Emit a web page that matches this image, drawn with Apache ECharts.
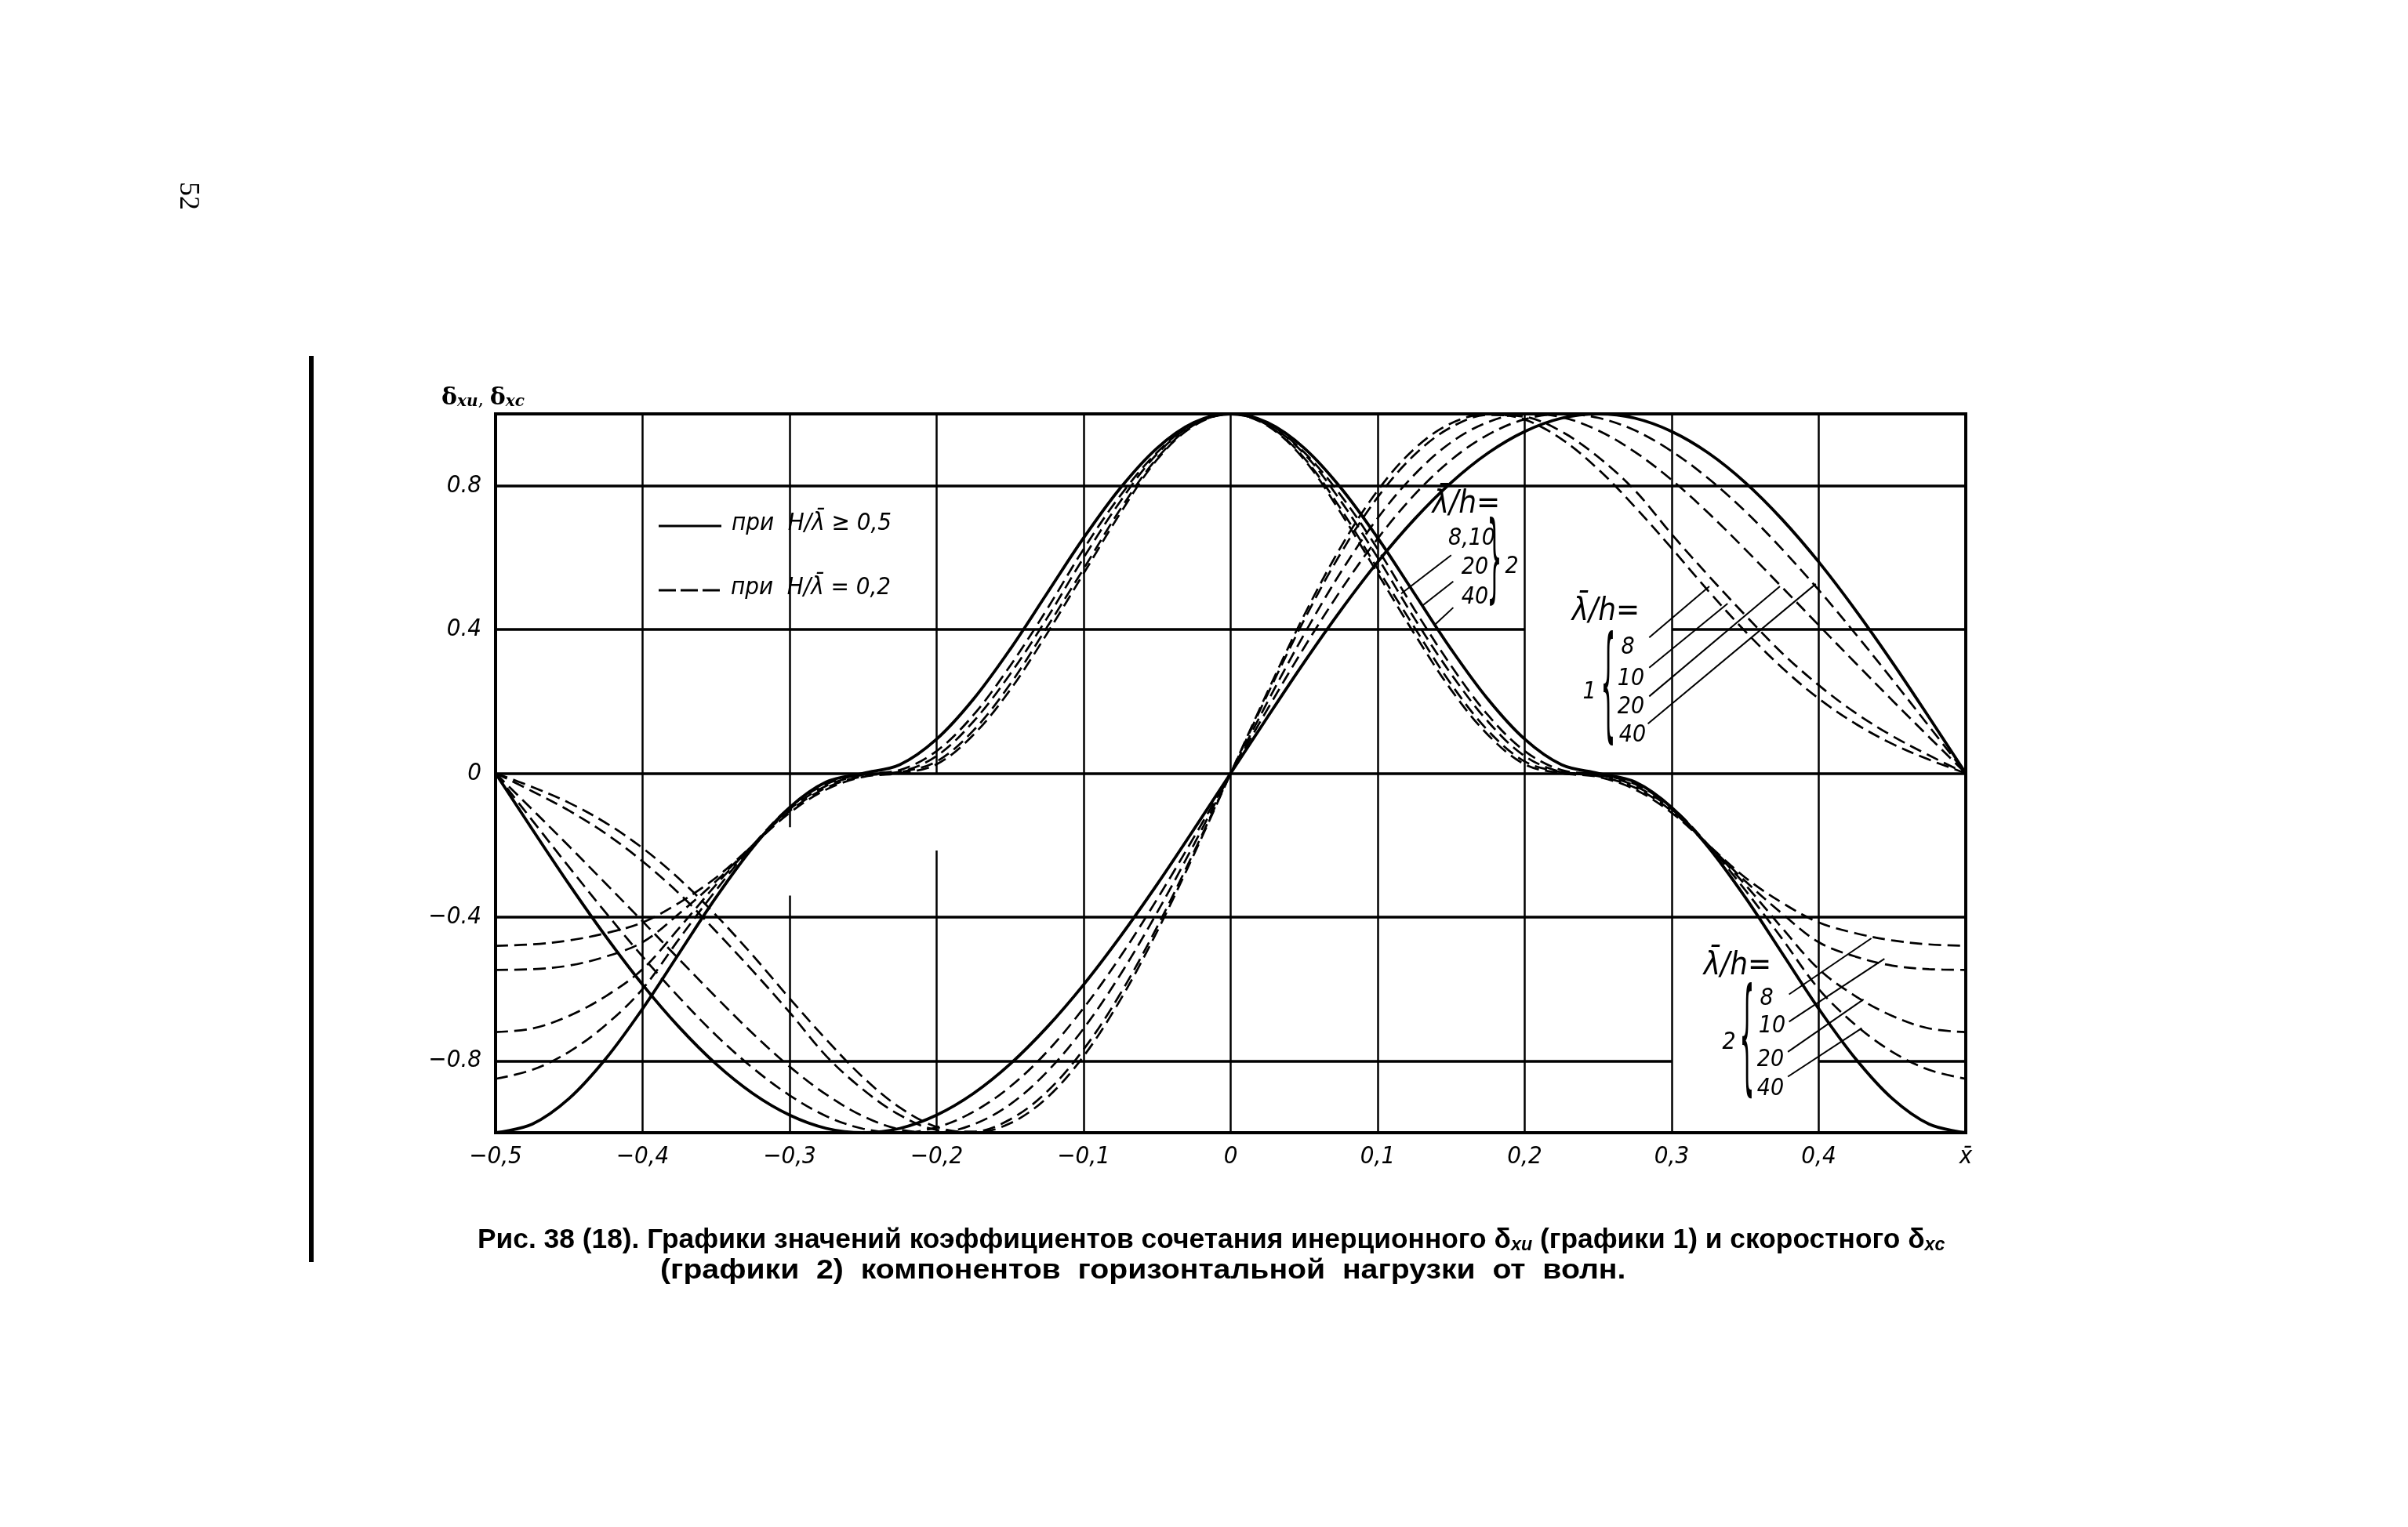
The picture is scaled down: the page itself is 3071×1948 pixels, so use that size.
<!DOCTYPE html>
<html>
<head>
<meta charset="utf-8">
<script src="https://cdn.jsdelivr.net/npm/echarts@6.0.0/dist/echarts.min.js"></script>
<style>
html,body{margin:0;padding:0;background:#ffffff;}
#chart{width:3071px;height:1948px;}
</style>
</head>
<body>
<div id="chart"></div>
<script>
// ---------------- data ----------------
const xs = [-0.5,-0.475,-0.45,-0.425,-0.4,-0.375,-0.35,-0.325,-0.3,-0.275,-0.25,-0.225,-0.2,-0.175,-0.15,-0.125,-0.1,-0.075,-0.05,-0.025,0,0.025,0.05,0.075,0.1,0.125,0.15,0.175,0.2,0.225,0.25,0.275,0.3,0.325,0.35,0.375,0.4,0.425,0.45,0.475,0.5];

const xTickLabels = ['−0,5','−0,4','−0,3','−0,2','−0,1','0','0,1','0,2','0,3','0,4','x̄'];
const yTickValues = [-0.8,-0.4,0,0.4,0.8];
const yTickLabels = ['−0.8','−0.4','0','0.4','0.8'];

// graphs 1 : inertial coefficient δxи
const inertSolid = [0,-0.156,-0.309,-0.454,-0.588,-0.707,-0.809,-0.891,-0.951,-0.988,-1,-0.988,-0.951,-0.891,-0.809,-0.707,-0.588,-0.454,-0.309,-0.156,0,0.156,0.309,0.454,0.588,0.707,0.809,0.891,0.951,0.988,1,0.988,0.951,0.891,0.809,0.707,0.588,0.454,0.309,0.156,0];
const inert8  = [0,-0.038,-0.082,-0.138,-0.208,-0.294,-0.395,-0.507,-0.626,-0.741,-0.846,-0.93,-0.984,-1.0,-0.974,-0.903,-0.787,-0.63,-0.44,-0.226,0,0.226,0.44,0.63,0.787,0.903,0.974,1.0,0.984,0.93,0.846,0.741,0.626,0.507,0.395,0.294,0.208,0.138,0.082,0.038,0];
const inert10 = [0,-0.05,-0.104,-0.168,-0.245,-0.335,-0.44,-0.55,-0.665,-0.787,-0.88,-0.951,-0.992,-0.997,-0.963,-0.886,-0.768,-0.613,-0.427,-0.219,0,0.219,0.427,0.613,0.768,0.886,0.963,0.997,0.992,0.951,0.88,0.787,0.665,0.55,0.44,0.335,0.245,0.168,0.104,0.05,0];
const inert20 = [0,-0.101,-0.203,-0.307,-0.412,-0.518,-0.623,-0.724,-0.816,-0.894,-0.954,-0.991,-1.0,-0.977,-0.921,-0.831,-0.71,-0.56,-0.387,-0.198,0,0.198,0.387,0.56,0.71,0.831,0.921,0.977,1.0,0.991,0.954,0.894,0.816,0.724,0.623,0.518,0.412,0.307,0.203,0.101,0];
const inert40 = [0,-0.131,-0.261,-0.388,-0.51,-0.624,-0.729,-0.82,-0.896,-0.954,-0.989,-1.0,-0.985,-0.942,-0.872,-0.775,-0.653,-0.51,-0.35,-0.178,0,0.178,0.35,0.51,0.653,0.775,0.872,0.942,0.985,1.0,0.989,0.954,0.896,0.82,0.729,0.624,0.51,0.388,0.261,0.131,0];

// graphs 2 : velocity coefficient δxc
const velSolid = [-1,-0.976,-0.905,-0.794,-0.655,-0.5,-0.345,-0.206,-0.095,-0.024,0,0.024,0.095,0.206,0.345,0.5,0.655,0.794,0.905,0.976,1,0.976,0.905,0.794,0.655,0.5,0.345,0.206,0.095,0.024,0,-0.024,-0.095,-0.206,-0.345,-0.5,-0.655,-0.794,-0.905,-0.976,-1];
const vel8  = [-0.48,-0.476,-0.465,-0.445,-0.415,-0.36,-0.29,-0.2,-0.11,-0.045,-0.01,0,0.025,0.107,0.232,0.388,0.556,0.724,0.873,0.967,1,0.967,0.873,0.724,0.556,0.388,0.232,0.107,0.025,0,-0.01,-0.045,-0.11,-0.2,-0.29,-0.36,-0.415,-0.445,-0.465,-0.476,-0.48];
const vel10 = [-0.547,-0.545,-0.535,-0.51,-0.47,-0.39,-0.3,-0.2,-0.105,-0.04,-0.008,0.003,0.033,0.119,0.248,0.406,0.569,0.735,0.877,0.969,1,0.969,0.877,0.735,0.569,0.406,0.248,0.119,0.033,0.003,-0.008,-0.04,-0.105,-0.2,-0.3,-0.39,-0.47,-0.51,-0.535,-0.545,-0.547];
const vel20 = [-0.72,-0.71,-0.675,-0.62,-0.545,-0.43,-0.31,-0.2,-0.1,-0.035,-0.004,0.004,0.048,0.144,0.276,0.431,0.6,0.757,0.889,0.971,1,0.971,0.889,0.757,0.6,0.431,0.276,0.144,0.048,0.004,-0.004,-0.035,-0.1,-0.2,-0.31,-0.43,-0.545,-0.62,-0.675,-0.71,-0.72];
const vel40 = [-0.85,-0.825,-0.775,-0.7,-0.6,-0.46,-0.325,-0.2,-0.095,-0.03,-0.003,0.009,0.062,0.162,0.299,0.456,0.624,0.773,0.893,0.974,1,0.974,0.893,0.773,0.624,0.456,0.299,0.162,0.062,0.009,-0.003,-0.03,-0.095,-0.2,-0.325,-0.46,-0.6,-0.7,-0.775,-0.825,-0.85];

// grid line segments in data units: [from, to, at]
const hGrid = [[-0.5,0.5,0.8],[-0.5,0.2,0.4],[0.3,0.5,0.4],[-0.5,0.5,0],[-0.5,0.5,-0.4],[-0.5,0.3,-0.8],[0.4,0.5,-0.8]];
const vGrid = [[-1,1,-0.4],[-1,-0.34,-0.3],[-0.15,1,-0.3],[-1,-0.215,-0.2],[0,1,-0.2],[-1,1,-0.1],[-1,1,0],[-1,1,0.1],[-1,1,0.2],[-1,1,0.3],[-1,1,0.4]];

// annotation leader lines in data units
const leaders = [
  [[0.150,0.607],[0.116,0.50]],
  [[0.1514,0.534],[0.130,0.465]],
  [[0.1514,0.461],[0.139,0.414]],
  [[0.2847,0.378],[0.3256,0.520]],
  [[0.2847,0.294],[0.338,0.472]],
  [[0.2847,0.214],[0.3736,0.520]],
  [[0.2838,0.138],[0.398,0.527]],
  [[0.3798,-0.615],[0.4358,-0.459]],
  [[0.3798,-0.691],[0.4447,-0.516]],
  [[0.379,-0.775],[0.4305,-0.629]],
  [[0.379,-0.844],[0.4293,-0.709]]
];

// ---------------- chart ----------------
const FONT = "'Liberation Sans Narrow','DejaVu Sans Condensed','Liberation Sans',sans-serif";
const chart = echarts.init(document.getElementById('chart'), null, {renderer:'canvas'});

function pts(ys){ return xs.map((x,i)=>[x, ys[i]]); }
const solidStyle = {color:'#000', width:3.8, type:'solid'};
const dashStyle = {color:'#000', width:2.7, type:[16,8]};
function curve(name, ys, dashed){
  return {type:'line', name:name, data:pts(ys), smooth:0.35, symbol:'none', showSymbol:false,
          lineStyle: dashed?dashStyle:solidStyle, z:5, silent:true, clip:true, animation:false};
}

const gridLines = [];
hGrid.forEach(s=>gridLines.push([{coord:[s[0],s[2]], lineStyle:{width:3.6}},{coord:[s[1],s[2]]}]));
vGrid.forEach(s=>gridLines.push([{coord:[s[2],s[0]], lineStyle:{width:2.5}},{coord:[s[2],s[1]]}]));
const leaderLines = leaders.map(l=>[{coord:l[0]},{coord:l[1]}]);

function T(x,y,text,size,align){
  return {type:'text', x:x, y:y, z:20, silent:true,
    style:{text:text, fontSize:size, fontFamily:FONT, fontStyle:'italic', fill:'#000', align:align||'center', verticalAlign:'middle'}};
}
function brace(x,y,ch,h){
  return {type:'text', x:x, y:y, z:20, silent:true, scaleX:0.9, scaleY:h/34,
    style:{text:ch, fontSize:34, fontFamily:"'DejaVu Sans'", fill:'#000', align:'center', verticalAlign:'middle'}};
}

const graphics = [
  // page margin bar and page number
  {type:'rect', shape:{x:394, y:454, width:6, height:1156}, style:{fill:'#000'}, z:20},
  {type:'text', x:239, y:250, rotation:-Math.PI/2, z:20,
    style:{text:'52', fontSize:36, fontFamily:"'Liberation Serif'", fill:'#000', align:'center', verticalAlign:'middle'}},
  // axis title
  {type:'text', x:563, y:506, z:20, style:{text:'{d|δ}{s|xи}{c|, }{d|δ}{s|xc}', align:'left', verticalAlign:'middle', fill:'#000',
    rich:{d:{fontSize:30, fontWeight:'bold', fontFamily:"'DejaVu Serif'", lineHeight:34, verticalAlign:'bottom'},
          s:{fontSize:20, fontStyle:'italic', fontWeight:'bold', fontFamily:"'DejaVu Serif'", lineHeight:22, verticalAlign:'bottom'},
          c:{fontSize:24, fontFamily:"'DejaVu Serif'", lineHeight:30, verticalAlign:'bottom'}}}},
  // legend
  {type:'line', shape:{x1:840,y1:671,x2:920,y2:671}, style:{stroke:'#000', lineWidth:3}, z:20},
  T(933,668,'при  H/λ̄ ≥ 0,5',31,'left'),
  {type:'line', shape:{x1:840,y1:753,x2:922,y2:753}, style:{stroke:'#000', lineWidth:3, lineDash:[22,6]}, z:20},
  T(932,750,'при  H/λ̄ = 0,2',31,'left'),
  // upper annotation (graphs 2)
  T(1870,644,'λ̄/h=',40),
  T(1877,687,'8,10',30),
  T(1881,724,'20',30),
  T(1881,762,'40',30),
  brace(1906,721,'}',123),
  T(1928,723,'2',30),
  // right annotation (graphs 1)
  T(2048,781,'λ̄/h=',40),
  brace(2051,884,'{',158),
  T(2027,883,'1',30),
  T(2076,826,'8',30),
  T(2080,866,'10',30),
  T(2080,902,'20',30),
  T(2082,938,'40',30),
  // lower annotation (graphs 2)
  T(2216,1233,'λ̄/h=',40),
  brace(2228,1333,'{',160),
  T(2205,1330,'2',30),
  T(2253,1274,'8',30),
  T(2260,1309,'10',30),
  T(2258,1352,'20',30),
  T(2258,1389,'40',30),
  // caption
  {type:'text', x:609, y:1579, z:20, scaleX:1.01, style:{
    text:'{t|Рис. 38 (18). Графики значений коэффициентов сочетания инерционного δ}{s|xи}{t| (графики 1) и скоростного δ}{s|xc}',
    align:'left', verticalAlign:'middle', fill:'#000',
    rich:{t:{fontSize:35, fontWeight:'bold', fontFamily:"'Liberation Sans'", lineHeight:42, verticalAlign:'bottom'},
          s:{fontSize:23, fontWeight:'bold', fontStyle:'italic', fontFamily:"'Liberation Sans'", lineHeight:32, verticalAlign:'bottom'}}}},
  {type:'text', x:842, y:1621, z:20, scaleX:1.12, style:{
    text:'(графики  2)  компонентов  горизонтальной  нагрузки  от  волн.',
    align:'left', verticalAlign:'middle', fill:'#000', fontSize:35, fontWeight:'bold', fontFamily:"'Liberation Sans'"}}
];

const option = {
  animation:false,
  backgroundColor:'#ffffff',
  grid:{left:632, right:564, top:528, bottom:503, show:true, borderColor:'#000', borderWidth:4, backgroundColor:'transparent'},
  xAxis:{type:'value', min:-0.5, max:0.5, interval:0.1,
    axisLine:{show:false}, axisTick:{show:false}, splitLine:{show:false},
    axisLabel:{show:true, margin:15, color:'#000', fontSize:31, fontStyle:'italic', fontFamily:FONT,
      formatter:function(v){ const i=Math.round((v+0.5)/0.1); return xTickLabels[i]||''; }}},
  yAxis:{type:'value', min:-1, max:1, interval:0.2,
    axisLine:{show:false}, axisTick:{show:false}, splitLine:{show:false},
    axisLabel:{show:true, margin:18, color:'#000', fontSize:31, fontStyle:'italic', fontFamily:FONT,
      formatter:function(v){ for(let k=0;k<yTickValues.length;k++){ if(Math.abs(v-yTickValues[k])<1e-6) return yTickLabels[k]; } return ''; }}},
  series:[
    {type:'line', name:'grid', data:[], z:2, silent:true, animation:false,
      markLine:{silent:true, animation:false, symbol:['none','none'], label:{show:false},
        lineStyle:{color:'#000', type:'solid', width:3}, emphasis:{disabled:true}, data:gridLines}},
    {type:'line', name:'leaders', data:[], z:3, silent:true, animation:false,
      markLine:{silent:true, animation:false, symbol:['none','none'], label:{show:false},
        lineStyle:{color:'#000', type:'solid', width:2}, emphasis:{disabled:true}, data:leaderLines}},
    curve('1: H/λ ≥ 0,5', inertSolid, false),
    curve('1: λ/h = 8', inert8, true),
    curve('1: λ/h = 10', inert10, true),
    curve('1: λ/h = 20', inert20, true),
    curve('1: λ/h = 40', inert40, true),
    curve('2: H/λ ≥ 0,5', velSolid, false),
    curve('2: λ/h = 8', vel8, true),
    curve('2: λ/h = 10', vel10, true),
    curve('2: λ/h = 20', vel20, true),
    curve('2: λ/h = 40', vel40, true)
  ],
  graphic:graphics
};
chart.setOption(option);
</script>
</body>
</html>
